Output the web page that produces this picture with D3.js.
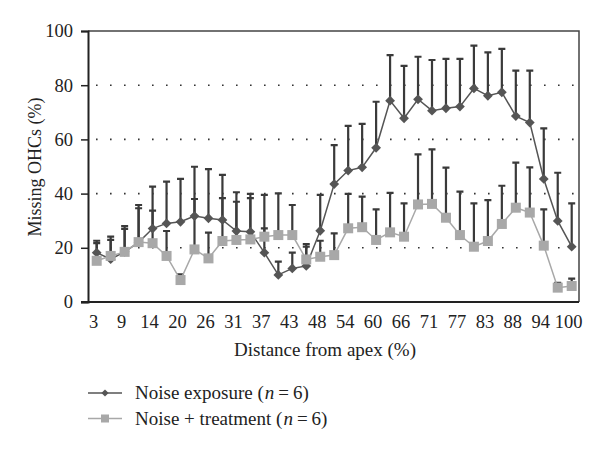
<!DOCTYPE html>
<html>
<head>
<meta charset="utf-8">
<script src="https://cdn.jsdelivr.net/npm/d3@7"></script>
<style>
  body { margin: 0; background: #fff; }
  text { font-family: "Liberation Serif", "DejaVu Serif", serif; fill: #222; }
</style>
</head>
<body>
<div id="grafica"></div>
<script>
// distance from apex (%) for every measured point
const distances = [3, 6, 9, 11, 14, 17, 20, 23, 26, 29, 31, 34, 37, 40, 43, 46, 48, 51,
  54, 57, 60, 63, 66, 69, 71, 74, 77, 80, 83, 86, 88, 91, 94, 97, 100];
const tickLabels = [3, 9, 14, 20, 26, 31, 37, 43, 48, 54, 60, 66, 71, 77, 83, 88, 94, 100];
const yTicks = [0, 20, 40, 60, 80, 100];
const gridValues = [20, 40, 60, 80];

// Noise exposure (n = 6): mean and mean + SD
const exposureMean = [18.2, 15.8, 18.5, 22, 27.1, 29, 29.6, 31.7, 30.9, 30.3, 26.2, 25.9,
  18.2, 10, 12.4, 13.3, 26.3, 43.5, 48.5, 49.7, 56.9, 74.3, 67.8, 74.8, 70.6, 71.5, 72.1,
  78.8, 76.1, 77.4, 68.6, 66.2, 45.4, 29.9, 20.4];
const exposureUpper = [22.6, 24.1, 28, 35.8, 42.6, 44.4, 45.4, 49.9, 49, 46.9, 40.5, 39.9,
  27.2, 14.9, 18.2, 20.4, 39.5, 57.9, 65, 65.7, 73.9, 91.1, 87.1, 90.5, 89.3, 89.7, 89.7,
  94.6, 92.1, 93.4, 85.4, 85.4, 64.1, 47.7, 36.4];

// Noise + treatment (n = 6)
const treatedMean = [15.2, 17, 18.5, 22.1, 21.7, 17, 8.1, 19.4, 16.1, 22.5, 22.9, 23.1,
  24.1, 24.7, 24.7, 15.7, 16.7, 17.3, 27.2, 27.6, 22.9, 25.7, 24.1, 36, 36.2, 31.1, 24.7,
  20.4, 22.5, 28.8, 34.8, 33, 20.8, 5.3, 5.9];
const treatedUpper = [21.7, 22.9, 27, 34.6, 33.7, 26.2, 10.2, 38, 25.6, 38.3, 37, 38.3,
  39.5, 40.1, 35.8, 21.4, 22.6, 25.3, 39.9, 38.9, 34.2, 40.3, 36.4, 54.5, 56.3, 49.6, 40.7,
  36.4, 37.6, 42.9, 51.4, 49.7, 34.2, 7.1, 8.6];

let width = 600
let height = 461
let mLeft = 88, mRight = 579, mTop = 31, mBottom = 302

let svg = d3.select("#grafica").append("svg")
  .attr("width", width)
  .attr("height", height)

let x = d3.scalePoint()
  .domain(distances)
  .range([96.7, 571.7])

let y = d3.scaleLinear()
  .domain([0, 100])
  .range([mBottom, mTop])

// dotted grid
svg.selectAll(".grid")
  .data(gridValues)
  .enter()
  .append("line")
    .attr("x1", mLeft + 8)
    .attr("x2", mRight)
    .attr("y1", d => y(d))
    .attr("y2", d => y(d))
    .attr("stroke", "#333")
    .attr("stroke-width", 1.6)
    .attr("stroke-dasharray", "1.6,12.4")

// top and right frame
svg.append("path")
  .attr("d", `M${mLeft},${mTop}H${mRight}V${mBottom}`)
  .attr("fill", "none")
  .attr("stroke", "#444")
  .attr("stroke-width", 1.5)

// y axis
let yAxis = svg.append("g")
  .attr("transform", `translate(${mLeft},0)`)
  .call(d3.axisLeft(y).tickValues(yTicks).tickSize(7).tickPadding(8))
yAxis.select(".domain").attr("stroke", "#222").attr("stroke-width", 2)
yAxis.selectAll(".tick line").attr("stroke", "#222").attr("stroke-width", 1.5)
yAxis.selectAll(".tick text").style("font-size", "18.5px").attr("fill", "#222")
  .attr("font-family", "Liberation Serif")

// x axis
svg.append("line")
  .attr("x1", mLeft - 7).attr("x2", mRight)
  .attr("y1", mBottom).attr("y2", mBottom)
  .attr("stroke", "#222").attr("stroke-width", 2)

svg.selectAll(".xlab")
  .data(tickLabels)
  .enter()
  .append("text")
    .attr("x", d => x(d) - 3)
    .attr("y", 328)
    .attr("text-anchor", "middle")
    .style("font-size", "18.5px")
    .text(d => d)

svg.append("text")
  .attr("x", 325)
  .attr("y", 356)
  .attr("text-anchor", "middle")
  .style("font-size", "19px")
  .text("Distance from apex (%)")

svg.append("text")
  .attr("transform", "translate(41,167) rotate(-90)")
  .attr("text-anchor", "middle")
  .style("font-size", "18px")
  .text("Missing OHCs (%)")

// error bars (upper side only)
let bars = []
distances.forEach((d, i) => {
  bars.push({ d: d, m: treatedMean[i], u: treatedUpper[i] })
  bars.push({ d: d, m: exposureMean[i], u: exposureUpper[i] })
})

svg.selectAll(".err")
  .data(bars)
  .enter()
  .append("path")
    .attr("d", b => `M${x(b.d)},${y(b.m)}V${y(b.u)}M${x(b.d) - 3.5},${y(b.u)}H${x(b.d) + 3.5}`)
    .attr("stroke", "#3a3a3a")
    .attr("stroke-width", 2.2)
    .attr("fill", "none")

let line = d3.line().x(d => x(d[0])).y(d => y(d[1]))

// noise exposure series
svg.append("path")
  .datum(distances.map((d, i) => [d, exposureMean[i]]))
  .attr("d", line)
  .attr("fill", "none")
  .attr("stroke", "#555")
  .attr("stroke-width", 1.5)

let diamond = d3.symbol().type(d3.symbolSquare).size(48)

svg.selectAll(".dia")
  .data(distances)
  .enter()
  .append("path")
    .attr("d", diamond)
    .attr("transform", (d, i) => `translate(${x(d)},${y(exposureMean[i])}) rotate(45)`)
    .attr("fill", "#555")

// noise + treatment series
svg.append("path")
  .datum(distances.map((d, i) => [d, treatedMean[i]]))
  .attr("d", line)
  .attr("fill", "none")
  .attr("stroke", "#a8a8a8")
  .attr("stroke-width", 1.5)

svg.selectAll(".sq")
  .data(distances)
  .enter()
  .append("rect")
    .attr("x", d => x(d) - 5)
    .attr("y", (d, i) => y(treatedMean[i]) - 5)
    .attr("width", 10)
    .attr("height", 10)
    .attr("fill", "#a8a8a8")

// legend
let legend = [
  { label: "Noise exposure (", color: "#555", stroke: "#555", shape: "diamond" },
  { label: "Noise + treatment (", color: "#a8a8a8", stroke: "#a8a8a8", shape: "square" }
]

legend.forEach((l, i) => {
  let ly = 393 + i * 25.5
  svg.append("line")
    .attr("x1", 88).attr("x2", 122)
    .attr("y1", ly).attr("y2", ly)
    .attr("stroke", l.stroke).attr("stroke-width", 1.5)
  if (l.shape === "diamond") {
    svg.append("path")
      .attr("d", d3.symbol().type(d3.symbolSquare).size(26))
      .attr("transform", `translate(105,${ly}) rotate(45)`)
      .attr("fill", l.color)
  } else {
    svg.append("rect")
      .attr("x", 101).attr("y", ly - 4)
      .attr("width", 8).attr("height", 8)
      .attr("fill", l.color)
  }
  let t = svg.append("text")
    .attr("x", 135)
    .attr("y", ly + 6)
    .style("font-size", "19px")
  t.append("tspan").text(l.label)
  t.append("tspan").attr("dx", 1).style("font-style", "italic").text("n")
  t.append("tspan").attr("dx", 4).text("=")
  t.append("tspan").attr("dx", 4).text("6)")
})
</script>
</body>
</html>
